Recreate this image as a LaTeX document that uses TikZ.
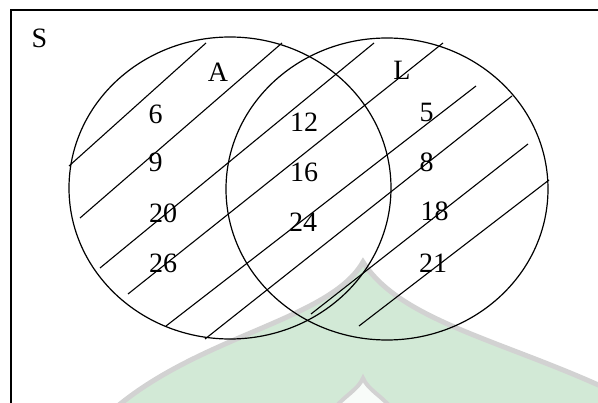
\documentclass[tikz,border=0pt]{standalone}
\usepackage{fontspec}
\setmainfont{Liberation Serif}
\usetikzlibrary{shapes.geometric}
\definecolor{wmgreen}{RGB}{210,233,214}
\definecolor{wmshadow}{RGB}{210,210,210}
\begin{document}
\begin{tikzpicture}[x=1pt, y=-1pt,
  font=\fontsize{28}{32}\selectfont,
  setcirc/.style={draw=black, ellipse, line width=1.2pt, inner sep=0pt,
    minimum width=322pt, minimum height=302pt},
  hatch/.style={draw=black, line width=1.1pt},
  lbl/.style={inner sep=0pt},
  ]
  \useasboundingbox (0,0) rectangle (598,403);

  %%% faint watermark in the background %%%
  \filldraw[fill=wmgreen, draw=wmshadow, line width=5pt]
    (113,410) .. controls (200,335) and (330,320) .. (363,262)
    .. controls (400,320) and (500,340) .. (605,388) -- (605,410) -- cycle;
  \filldraw[fill=white!85!wmgreen, draw=wmshadow, line width=4pt]
    (333,410) .. controls (345,395) and (358,390) .. (363,378)
    .. controls (368,390) and (381,395) .. (393,410) -- cycle;

  %%% universe frame (cut off on the right and at the bottom) %%%
  \draw[line width=1.5pt] (11,10) rectangle (640,440);

  %%% the two sets %%%
  \node[setcirc] (setA) at (230,188) {};
  \node[setcirc] (setL) at (387,189) {};

  %%% hatching %%%
  \foreach \xa/\ya/\xb/\yb in {69/166/206/43, 80/218/282/43, 100/268/374/43,
      128/294/443/43, 166/326/476/86, 205/339/512/96, 311/314/528/144,
      359/326/549/180}
    \draw[hatch] (\xa,\ya) -- (\xb,\yb);

  %%% set names %%%
  \node[lbl] (nameS) at (39.5,38.5) {S};
  \node[lbl] (nameA) at (218,72)    {A};
  \node[lbl] (nameL) at (402,70.5)  {L};

  %%% elements %%%
  \foreach \ex/\ey/\ev in {155.5/114.5/6, 155.5/162.5/9, 163/213/20, 163/263.5/26,
      304/122.5/12, 304/172.5/16, 303/222.5/24,
      426.5/112/5, 426.5/162/8, 434.5/211.5/18, 433/263.5/21}
    \node[lbl] (elem\ev) at (\ex,\ey) {\ev};
\end{tikzpicture}
\end{document}
